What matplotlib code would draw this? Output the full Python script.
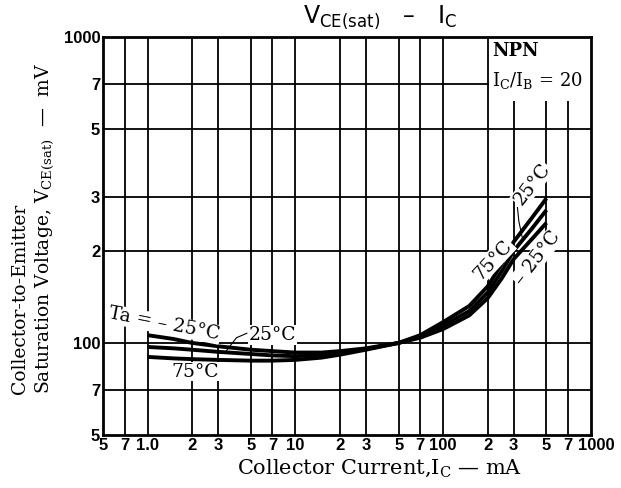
import numpy as np
import matplotlib
matplotlib.use("Agg")
import matplotlib.pyplot as plt
from matplotlib.patches import Rectangle
from matplotlib.transforms import offset_copy

# collector current (mA) and V_CE(sat) (mV)
ic_ma = [1, 1.5, 2, 3, 5, 7, 10, 15, 20, 30, 50, 70, 100, 150, 200, 250, 300, 400, 500]
vce_m25 = [106, 103, 100, 97.5, 95, 94, 93, 93, 94, 96, 100, 104, 111, 123, 140, 163, 188, 219, 247]
vce_25 = [97, 96, 95, 93.5, 92, 91, 90.5, 91.3, 92.5, 95.5, 100, 105, 114, 127, 146, 172, 200, 237, 272]
vce_75 = [90, 89, 88.5, 88, 87.5, 87.5, 88, 89.5, 91.5, 95, 100, 106, 117, 132, 153, 182, 214, 257, 297]

x_grid = [0.7, 1, 2, 3, 5, 7, 10, 20, 30, 50, 70, 100, 200, 300, 500, 700]
y_grid = [70, 100, 200, 300, 500, 700]

x_ticks = [0.5, 0.7, 1, 2, 3, 5, 7, 10, 20, 30, 50, 70, 100, 200, 300, 500, 700, 1000]
x_labels = ["5", "7", "1.0", "2", "3", "5", "7", "10", "2", "3", "5", "7", "100",
            "2", "3", "5", "7", ""]
y_ticks = [50, 70, 100, 200, 300, 500, 700, 1000]
y_labels = ["5", "7", "100", "2", "3", "5", "7", "1000"]

SERIF = "DejaVu Serif"
TICKFONT = dict(family="Liberation Sans", weight="bold", size=12)

fig = plt.figure(figsize=(6.21, 4.88), dpi=100)
ax = fig.add_axes([103 / 621, 1 - 435 / 488, 488 / 621, 398 / 488])
ax.set_xscale("log")
ax.set_yscale("log")
ax.set_xlim(0.5, 1000)
ax.set_ylim(50, 1000)

# grid drawn by hand so the NPN box can blank part of it
for xv in x_grid:
    ax.axvline(xv, color="black", lw=1.3, zorder=1)
for yv in y_grid:
    ax.axhline(yv, color="black", lw=1.3, zorder=1)
ax.add_patch(Rectangle((203, 620), 1000 - 203, 1000 - 620, facecolor="white",
                       edgecolor="none", zorder=1.5))

for vals in (vce_m25, vce_25, vce_75):
    ax.plot(ic_ma, vals, color="black", lw=2.8, zorder=3, solid_capstyle="butt")

for side in ax.spines.values():
    side.set_linewidth(2)

ax.set_xticks(x_ticks)
ax.set_xticklabels(x_labels, fontdict=TICKFONT)
ax.set_yticks(y_ticks)
ax.set_yticklabels(y_labels, fontdict=TICKFONT)
ax.xaxis.set_minor_locator(matplotlib.ticker.NullLocator())
ax.yaxis.set_minor_locator(matplotlib.ticker.NullLocator())
ax.tick_params(length=0, pad=2)

# last x label sits right of the frame, as in the datasheet
trans_1000 = offset_copy(ax.get_xaxis_transform(), fig=fig, x=-13, y=-3, units="dots")
ax.text(1000, 0, "1000", transform=trans_1000, ha="left", va="top", **TICKFONT)

# curve labels
lbl = dict(family=SERIF, size=13.5, zorder=4, rotation_mode="anchor",
           ha="center", va="center")
wbox = dict(facecolor="white", edgecolor="none", pad=0.5)
ax.text(1.3, 115, "Ta = – 25°C", rotation=-11, bbox=wbox, **lbl)
ax.text(7.0, 106, "25°C", bbox=wbox, **lbl)
ax.plot([4.7, 4.0, 3.4], [107.5, 104, 94], color="black", lw=0.8, zorder=4)
ax.text(2.1, 80.5, "75°C", bbox=wbox, **lbl)
ax.text(400, 330, "25°C", rotation=52, bbox=wbox, **lbl)
ax.plot([318, 325, 342], [277, 250, 222], color="black", lw=0.8, zorder=4)
ax.text(218, 187, "75°C", rotation=47, bbox=wbox, **lbl)
ax.text(432, 190, "– 25°C", rotation=52, bbox=wbox, **lbl)

ax.text(215, 900, "NPN", family=SERIF, size=13, weight="bold", va="center", zorder=4)
ax.text(215, 720, r"I$_{\mathrm{C}}$/I$_{\mathrm{B}}$ = 20", family=SERIF, size=13,
        math_fontfamily="dejavuserif", va="center", zorder=4)

fig.text(380 / 621, 1 - 17 / 488, r"V$_{\mathrm{CE(sat)}}$   –   I$_{\mathrm{C}}$",
         ha="center", va="center", size=17, family="DejaVu Sans")
fig.text(380 / 621, 1 - 468 / 488, r"Collector Current,I$_{\mathrm{C}}$ — mA",
         ha="center", va="center", size=15, family=SERIF, math_fontfamily="dejavuserif")
fig.text(20 / 621, 1 - 394 / 488, "Collector-to-Emitter", rotation=90,
         ha="center", va="bottom", size=13.5, family=SERIF)
fig.text(45 / 621, 1 - 394 / 488, r"Saturation Voltage, V$_{\mathrm{CE(sat)}}$  —  mV",
         rotation=90, ha="center", va="bottom", size=13.5, family=SERIF,
         math_fontfamily="dejavuserif")

fig.savefig("out.png", dpi=100)
